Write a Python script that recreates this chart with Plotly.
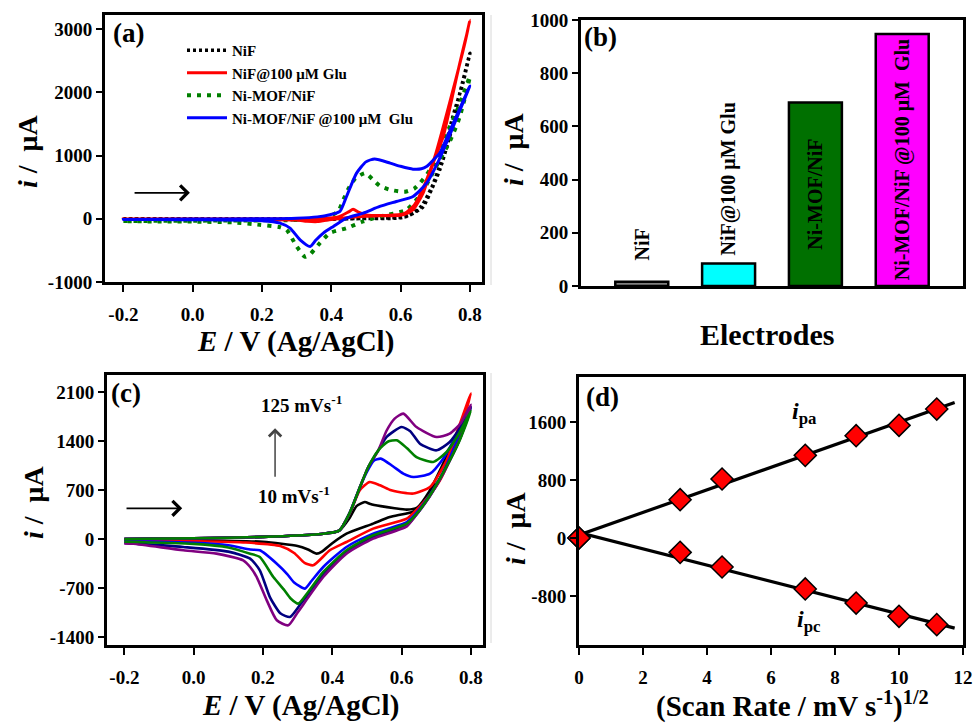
import numpy as np
import plotly.graph_objects as go

# ---------------- Panel (a): CVs of electrodes ----------------
a_nif_E = [-0.2, 0.0, 0.2, 0.4, 0.5, 0.6, 0.636, 0.665, 0.689, 0.713, 0.742, 0.771, 0.8,
           0.78, 0.75, 0.72, 0.69, 0.66, 0.62, 0.55, 0.45, 0.35, 0.2, 0.0, -0.2]
a_nif_i = [0, 0, 0, 0, 5, 15, 84, 190, 458, 774, 1300, 1985, 2617,
           2150, 1600, 950, 500, 200, 40, 10, 0, -15, -10, -5, -5]

a_nifglu_E = [-0.2, 0.0, 0.2, 0.35, 0.42, 0.45, 0.463, 0.48, 0.5, 0.55, 0.6, 0.62, 0.636, 0.665,
              0.694, 0.723, 0.762, 0.8,
              0.78, 0.74, 0.7, 0.67, 0.64, 0.61, 0.55, 0.5, 0.45, 0.4, 0.36, 0.33, 0.3, 0.2, 0.0, -0.2]
a_nifglu_i = [-5, -5, -5, 0, 30, 110, 150, 100, 60, 50, 55, 90, 142, 406,
              880, 1300, 2248, 3140,
              2650, 1800, 1000, 550, 220, 80, 50, 40, 20, -10, -45, -40, -20, -10, -10, -5]

a_mof_E = [-0.2, 0.0, 0.2, 0.3, 0.38, 0.42, 0.435, 0.45, 0.47, 0.498, 0.52, 0.54, 0.57, 0.6, 0.617,
           0.64, 0.656, 0.685, 0.713, 0.742, 0.77, 0.8,
           0.77, 0.74, 0.7, 0.66, 0.617, 0.54, 0.492, 0.444, 0.396, 0.367, 0.339, 0.324, 0.3,
           0.271, 0.25, 0.194, 0.117, 0.0, -0.2]
a_mof_i = [-35, -30, -25, -20, 0, 120, 300, 480, 640, 722, 620, 520, 458, 430, 432,
           480, 563, 774, 1090, 1458, 1800, 2250,
           1600, 1200, 800, 400, 142, 37, -42, -148, -226, -384, -560, -600, -437,
           -174, -130, -95, -58, -45, -40]

a_mofglu_E = [-0.2, 0.0, 0.2, 0.3, 0.36, 0.396, 0.425, 0.444, 0.473, 0.5, 0.525, 0.57, 0.6, 0.636,
              0.66, 0.675, 0.704, 0.713, 0.752, 0.8,
              0.77, 0.74, 0.71, 0.675, 0.636, 0.588, 0.54, 0.492, 0.444, 0.406, 0.377, 0.355,
              0.339, 0.31, 0.281, 0.252, 0.2, 0.0, -0.2]
a_mofglu_i = [-10, -5, 0, 10, 30, 63, 116, 352, 722, 900, 945, 880, 830, 785,
              790, 826, 985, 1037, 1512, 2101,
              1700, 1300, 920, 563, 353, 274, 195, 90, 11, -121, -226, -340,
              -437, -332, -147, -68, -30, -15, -10]

a_names = ["NiF", "NiF@100 μM Glu", "Ni-MOF/NiF", "Ni-MOF/NiF @100 μM  Glu"]
a_xticks = [-0.2, 0.0, 0.2, 0.4, 0.6, 0.8]
a_xticktext = ["-0.2", "0.0", "0.2", "0.4", "0.6", "0.8"]
a_yticks = [-1000, 0, 1000, 2000, 3000]
a_yticktext = ["-1000", "0", "1000", "2000", "3000"]

# ---------------- Panel (b): bar chart ----------------
b_labels = ["NiF", "NiF@100 μM Glu", "Ni-MOF/NiF", "Ni-MOF/NiF @100 μM  Glu"]
b_values = [16, 85, 690, 947]
b_yticks = [0, 200, 400, 600, 800, 1000]

# ---------------- Panel (c): scan-rate CVs ----------------
c_rates = ["10", "20", "50", "75", "100", "125"]
c_base_E = [-0.2, 0.0, 0.2, 0.3, 0.38, 0.42]
c_base_i = [0, 10, 30, 50, 80, 120]

c10_E = [0.45, 0.47, 0.494, 0.51, 0.54, 0.58, 0.615, 0.645, 0.68, 0.72, 0.76, 0.8,
         0.76, 0.72, 0.68, 0.643, 0.566, 0.518, 0.441, 0.4, 0.37, 0.355, 0.33, 0.3, 0.2, 0.0, -0.2]
c10_i = [300, 470, 529, 500, 470, 440, 420, 450, 680, 1077, 1500, 1880,
         1400, 950, 640, 410, 314, 220, 77, -60, -180, -209, -150, -100, -40, -15, -5]

c20_E = [0.45, 0.48, 0.508, 0.538, 0.57, 0.614, 0.634, 0.682, 0.73, 0.765, 0.8,
         0.77, 0.74, 0.71, 0.68, 0.64, 0.615, 0.518, 0.441, 0.393, 0.345, 0.32, 0.29,
         0.25, 0.15, 0.0, -0.2]
c20_i = [360, 700, 814, 767, 696, 655, 649, 743, 1124, 1600, 2080,
         1550, 1150, 830, 620, 400, 291, 148, -43, -161, -376, -340, -200,
         -100, -50, -30, -15]

c50_E = [0.45, 0.48, 0.5, 0.52, 0.54, 0.575, 0.605, 0.634, 0.682, 0.72, 0.76, 0.8,
         0.76, 0.72, 0.68, 0.64, 0.615, 0.518, 0.441, 0.374, 0.34, 0.321, 0.29,
         0.27, 0.24, 0.191, 0.163, 0.1, 0.0, -0.2]
c50_i = [370, 743, 960, 1120, 1148, 1040, 934, 886, 934, 1148, 1500, 1880,
         1400, 950, 620, 360, 243, 77, -114, -400, -600, -709, -620,
         -500, -352, -161, -150, -90, -55, -30]

c75_E = [0.45, 0.48, 0.504, 0.533, 0.56, 0.586, 0.615, 0.643, 0.691, 0.73, 0.765, 0.8,
         0.765, 0.72, 0.68, 0.64, 0.615, 0.518, 0.441, 0.374, 0.33, 0.302, 0.28,
         0.26, 0.23, 0.191, 0.163, 0.1, 0.0, -0.2]
c75_i = [370, 743, 1029, 1267, 1390, 1410, 1300, 1171, 1100, 1243, 1500, 1830,
         1380, 950, 610, 340, 220, 53, -161, -471, -760, -923, -850,
         -720, -543, -257, -209, -120, -70, -40]

c100_E = [0.45, 0.48, 0.504, 0.533, 0.557, 0.6, 0.625, 0.653, 0.701, 0.739, 0.77, 0.8,
          0.77, 0.72, 0.68, 0.64, 0.615, 0.518, 0.441, 0.374, 0.31, 0.278, 0.25,
          0.22, 0.191, 0.163, 0.1, -0.03, -0.2]
c100_i = [370, 743, 1029, 1267, 1460, 1600, 1540, 1362, 1267, 1386, 1600, 1880,
          1450, 940, 600, 330, 200, 30, -185, -510, -920, -1114, -1060,
          -829, -447, -281, -180, -114, -55]

c125_E = [0.45, 0.48, 0.504, 0.533, 0.557, 0.58, 0.605, 0.643, 0.701, 0.739, 0.77, 0.8,
          0.77, 0.72, 0.68, 0.64, 0.615, 0.518, 0.441, 0.374, 0.3, 0.273, 0.24,
          0.211, 0.182, 0.163, 0.143, 0.066, -0.03, -0.174, -0.2]
c125_i = [370, 743, 1029, 1267, 1550, 1720, 1791, 1600, 1457, 1505, 1650, 1920,
          1450, 930, 600, 330, 181, 6, -209, -543, -1050, -1233, -1161,
          -876, -543, -400, -304, -209, -161, -67, -62]

c_curves_E = [c10_E, c20_E, c50_E, c75_E, c100_E, c125_E]
c_curves_i = [c10_i, c20_i, c50_i, c75_i, c100_i, c125_i]
c_colors = ["#000000", "#ff0000", "#0000ff", "#008000", "#000080", "#800080"]
c_xticks = [-0.2, 0.0, 0.2, 0.4, 0.6, 0.8]
c_xticktext = ["-0.2", "0.0", "0.2", "0.4", "0.6", "0.8"]
c_yticks = [-1400, -700, 0, 700, 1400, 2100]
c_yticktext = ["-1400", "-700", "0", "700", "1400", "2100"]

# ---------------- Panel (d): peak current vs sqrt(scan rate) ----------------
d_sqrt_rate = [0, 3.16, 4.47, 7.07, 8.66, 10.0, 11.18]
d_ipa = [0, 529, 814, 1140, 1411, 1554, 1779]
d_ipc = [0, -198, -400, -703, -897, -1080, -1195]
d_xticks = [0, 2, 4, 6, 8, 10, 12]
d_yticks = [-800, 0, 800, 1600]
d_yticktext = ["-800", "0", "800", "1600"]

# =====================================================================
W, H = 974, 724
FONT = "Liberation Serif, Times New Roman, serif"


def px_x(p):
    return p / W


def px_y(p):
    return 1 - p / H


fig = go.Figure()

# ---- (a)
a_data = [
    (a_nif_E, a_nif_i, a_names[0], dict(color="black", width=3.5, dash="3px,3px"), 1),
    (a_mof_E, a_mof_i, a_names[2], dict(color="#008000", width=4, dash="4px,6px"), 3),
    (a_nifglu_E, a_nifglu_i, a_names[1], dict(color="#ff0000", width=3), 2),
    (a_mofglu_E, a_mofglu_i, a_names[3], dict(color="#0000ff", width=3), 4),
]
for E, I, name, line, rank in a_data:
    fig.add_trace(go.Scatter(x=E, y=I, mode="lines", name=name,
                             line=dict(shape="spline", smoothing=0.6, **line),
                             legendrank=rank, xaxis="x", yaxis="y"))

# ---- (b)
b_colors = ["#808080", "#00ffff", "#007000", "#ff00ff"]
fig.add_trace(go.Bar(x=b_labels, y=b_values,
                     marker=dict(color=b_colors, line=dict(color="black", width=2.5)),
                     width=0.61, showlegend=False, xaxis="x2", yaxis="y2"))

# ---- (c)
c_order = [0, 1, 2, 4, 5, 3]
for k in c_order:
    fig.add_trace(go.Scatter(x=c_base_E + c_curves_E[k], y=c_base_i + c_curves_i[k], mode="lines",
                             line=dict(color=c_colors[k], width=2.6, shape="spline", smoothing=0.6),
                             showlegend=False, name=c_rates[k] + " mV/s", xaxis="x3", yaxis="y3"))

# ---- (d)
for ys in (d_ipa, d_ipc):
    slope, icpt = np.polyfit(d_sqrt_rate, ys, 1)
    xf = np.array([min(d_sqrt_rate), max(d_sqrt_rate) * 1.05])
    fig.add_trace(go.Scatter(x=xf, y=slope * xf + icpt, mode="lines",
                             line=dict(color="black", width=3.2),
                             showlegend=False, xaxis="x4", yaxis="y4"))
for ys in (d_ipa, d_ipc):
    fig.add_trace(go.Scatter(x=d_sqrt_rate, y=ys, mode="markers", cliponaxis=False,
                             marker=dict(symbol="diamond", size=17, color="#ff0000",
                                         line=dict(color="black", width=1.5)),
                             showlegend=False, xaxis="x4", yaxis="y4"))

tickfont = dict(family=FONT, size=19, color="black", weight="bold")
axis_common = dict(showline=True, linecolor="black", linewidth=3, mirror=True, ticks="outside",
                   tickwidth=2, tickcolor="black", showgrid=False, zeroline=False,
                   tickfont=tickfont, automargin=False)

layout = dict(
    width=W, height=H, margin=dict(l=0, r=0, t=0, b=0, autoexpand=False),
    paper_bgcolor="white", plot_bgcolor="white",
    font=dict(family=FONT, color="black"),
    xaxis=dict(domain=[px_x(105), px_x(482)], range=[-0.253, 0.835], tickvals=a_xticks,
               ticktext=a_xticktext, anchor="y", ticklabelstandoff=6, ticklen=7, **axis_common),
    yaxis=dict(domain=[px_y(282), px_y(15)], range=[-1000, 3223], tickvals=a_yticks,
               ticktext=a_yticktext, anchor="x", ticklen=6, **axis_common),
    xaxis2=dict(domain=[px_x(581), px_x(963)], range=[-0.7, 3.7], showticklabels=False,
                anchor="y2", showline=True, linecolor="black", linewidth=3, mirror=True,
                ticks="", showgrid=False, zeroline=False, type="category", automargin=False),
    yaxis2=dict(domain=[px_y(286), px_y(20)], range=[0, 1000], tickvals=b_yticks, anchor="x2",
                ticklen=6, **axis_common),
    xaxis3=dict(domain=[px_x(107), px_x(483)], range=[-0.25, 0.835], tickvals=c_xticks,
                ticktext=c_xticktext, anchor="y3", ticklabelstandoff=6, ticklen=7, **axis_common),
    yaxis3=dict(domain=[px_y(645), px_y(375)], range=[-1514, 2343], tickvals=c_yticks,
                ticktext=c_yticktext, anchor="x3", ticklen=6, **axis_common),
    xaxis4=dict(domain=[px_x(579), px_x(963)], range=[0, 12], tickvals=d_xticks, anchor="y4",
                ticklabelstandoff=6, ticklen=7, **axis_common),
    yaxis4=dict(domain=[px_y(645), px_y(377)], range=[-1476, 2221], tickvals=d_yticks,
                ticktext=d_yticktext, anchor="x4", ticklen=6, **axis_common),
    legend=dict(x=px_x(182), y=px_y(34), xanchor="left", yanchor="top", bgcolor="rgba(0,0,0,0)",
                font=dict(family=FONT, size=15, color="black", weight="bold"), tracegroupgap=0,
                itemwidth=40),
)
fig.update_layout(**layout)

annotations = []


def add_text(text, x, y, size, angle=0, xanchor="center", yanchor="middle", xref="paper",
             yref="paper", yshift=0):
    annotations.append(dict(text=text, x=x, y=y, xref=xref, yref=yref, showarrow=False,
                            textangle=angle, xanchor=xanchor, yanchor=yanchor, yshift=yshift,
                            font=dict(family=FONT, size=size, color="black")))


# panel letters
add_text("<b>(a)</b>", px_x(111), px_y(33), 27, xanchor="left")
add_text("<b>(b)</b>", px_x(582), px_y(37), 27, xanchor="left")
add_text("<b>(c)</b>", px_x(109), px_y(393), 27, xanchor="left")
add_text("<b>(d)</b>", px_x(584), px_y(397), 27, xanchor="left")

# axis titles
ytitle = "<b><i>i</i> /  μA</b>"
add_text(ytitle, px_x(27), px_y(152), 28, angle=-90)
add_text(ytitle, px_x(514), px_y(150), 28, angle=-90)
add_text(ytitle, px_x(33), px_y(503), 28, angle=-90)
add_text(ytitle, px_x(515), px_y(529), 28, angle=-90)
add_text("<b><i>E</i> / V (Ag/AgCl)</b>", px_x(295), px_y(341), 29)
add_text("<b><i>E</i> / V (Ag/AgCl)</b>", px_x(300), px_y(705), 29)
add_text("<b>Electrodes</b>", px_x(767), px_y(334), 30)
add_text("<b>(Scan Rate / mV s<sup>-1</sup>)<sup>1/2</sup></b>", px_x(792), px_y(704), 29)

# bar labels
b_pos = ["outside", "outside", "inside", "inside"]
b_shift = [19, 6, 0, 0]
for lab, val, pos, sh in zip(b_labels, b_values, b_pos, b_shift):
    if pos == "outside":
        add_text("<b>" + lab + "</b>", lab, val, 20, angle=-90, yanchor="bottom", xref="x2",
                 yref="y2", yshift=sh)
    else:
        add_text("<b>" + lab + "</b>", lab, val / 2, 20, angle=-90, xref="x2", yref="y2")

# panel (c) labels
add_text("<b>125 mVs<sup>-1</sup></b>", 0.31, 1930, 19, xref="x3", yref="y3")
add_text("<b>10 mVs<sup>-1</sup></b>", 0.29, 624, 19, xref="x3", yref="y3")

# panel (d) labels
add_text("<b><i>i</i><sub>pa</sub></b>", 7.05, 1730, 24, xref="x4", yref="y4")
add_text("<b><i>i</i><sub>pc</sub></b>", 7.2, -1150, 24, xref="x4", yref="y4")


def add_arrow(x0, y0, x1, y1, xr, yr, color="black", width=1.8):
    annotations.append(dict(x=x1, y=y1, ax=x0, ay=y0, xref=xr, yref=yr, axref=xr, ayref=yr,
                            text="", showarrow=True, arrowhead=4, arrowsize=1.6, arrowwidth=width,
                            arrowcolor=color))


add_arrow(-0.172, 411, -0.008, 411, "x", "y")
add_arrow(-0.198, 439, -0.033, 439, "x3", "y3")
add_arrow(0.235, 867, 0.235, 1581, "x3", "y3", color="#444444", width=1.5)

fig.update_layout(annotations=annotations)

# faint separator lines between panels
fig.add_shape(type="line", xref="paper", yref="paper", x0=px_x(491), x1=px_x(491),
              y0=px_y(285), y1=px_y(15), line=dict(color="#d8d8d8", width=1))
fig.add_shape(type="line", xref="paper", yref="paper", x0=px_x(491), x1=px_x(491),
              y0=px_y(643), y1=px_y(373), line=dict(color="#d8d8d8", width=1))

fig.write_html("out.html", config={"displayModeBar": False},
               post_script="document.body.style.margin='0px';")
